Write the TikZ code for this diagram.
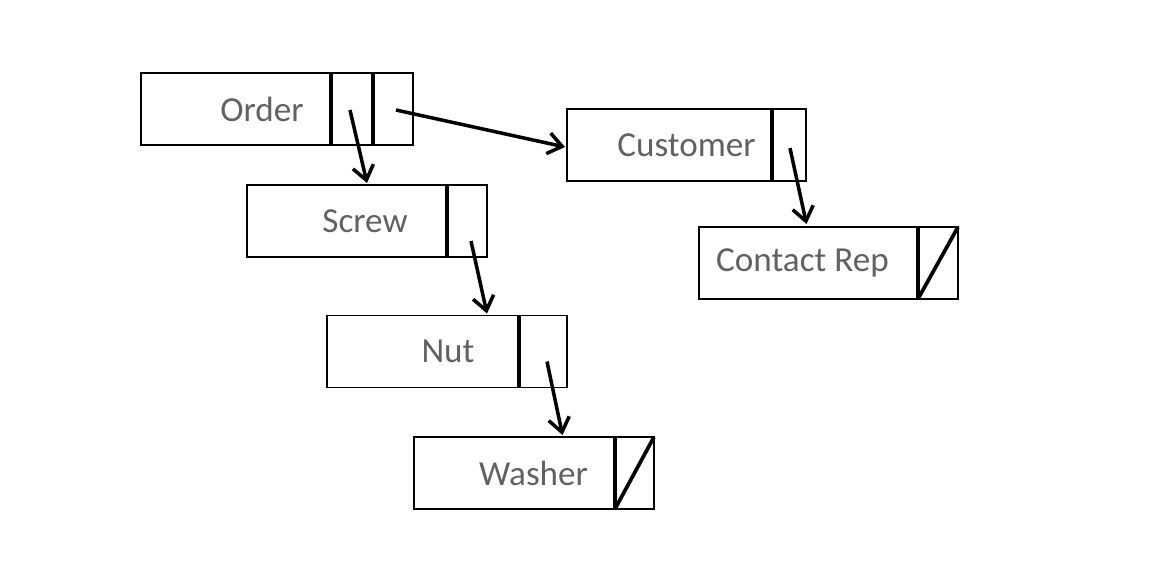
\documentclass[tikz,border=0pt]{standalone}
\usepackage{fontspec}
\setmainfont{Carlito}
\usetikzlibrary{arrows.meta,calc,positioning}
\tikzset{>={Straight Barb[length=2.8mm,width=4.2mm]}}
\tikzstyle{field}=[rectangle,draw=black,line width=0.9pt,minimum height=1.44cm,inner sep=0pt,outer sep=0pt]
\tikzstyle{rectext}=[text=black!62,font=\fontsize{20}{24}\selectfont,inner sep=0pt]
\tikzstyle{divider}=[line width=2.4pt]
\tikzstyle{slash}=[line width=2.1pt]
\tikzstyle{link}=[->,line width=2pt]

\begin{document}
\begin{tikzpicture}[x=0.02cm,y=-0.02cm]
	\useasboundingbox (0,0) rectangle (1157,569);

	% records
	\node[field,minimum width=3.8cm] (order) at (236,109) {};
	\node[field,minimum width=0.84cm,right=0cm of order] (orderA) {};
	\node[field,minimum width=0.8cm,right=0cm of orderA] (orderB) {};

	\node[field,minimum width=4.1cm] (customer) at (669.5,145) {};
	\node[field,minimum width=0.68cm,right=0cm of customer] (customerP) {};

	\node[field,minimum width=4cm] (screw) at (347,221) {};
	\node[field,minimum width=0.8cm,right=0cm of screw] (screwP) {};

	\node[field,minimum width=4.38cm] (contact) at (808.5,263) {};
	\node[field,minimum width=0.8cm,right=0cm of contact] (contactP) {};

	\node[field,minimum width=3.84cm] (nut) at (423,351.5) {};
	\node[field,minimum width=0.96cm,right=0cm of nut] (nutP) {};

	\node[field,minimum width=4.02cm] (washer) at (514.5,473) {};
	\node[field,minimum width=0.78cm,right=0cm of washer] (washerP) {};

	% names
	\node[rectext] (orderT) at ($(order)+(26,0)$) {Order};
	\node[rectext] (customerT) at ($(customer)+(17,0)$) {Customer};
	\node[rectext] (screwT) at ($(screw)+(18,0)$) {Screw};
	\node[rectext] (contactT) at ($(contact)+(-6,0)$) {Contact Rep};
	\node[rectext] (nutT) at ($(nut)+(25,0)$) {Nut};
	\node[rectext] (washerT) at ($(washer)+(19,0)$) {Washer};

	% pointer fields
	\draw[divider] (orderA.north west) -- (orderA.south west);
	\draw[divider] (orderB.north west) -- (orderB.south west);
	\draw[divider] (customerP.north west) -- (customerP.south west);
	\draw[divider] (screwP.north west) -- (screwP.south west);
	\draw[divider] (contactP.north west) -- (contactP.south west);
	\draw[divider] (nutP.north west) -- (nutP.south west);
	\draw[divider] (washerP.north west) -- (washerP.south west);

	\draw[slash] (contactP.south west) -- (contactP.north east);
	\draw[slash] (washerP.south west) -- (washerP.north east);

	% links
	\draw[link] ($(orderA.center)+(-2,1)$) -- ($(screw.north)+(20,-2)$);
	\draw[link] ($(orderB.center)+(3,1)$) -- ($(customer.west)+(-2,2)$);
	\draw[link] ($(customerP.center)+(1,3)$) -- ($(contact.north)+(-2,-3)$);
	\draw[link] ($(screwP.center)+(4,20)$) -- ($(nut.north)+(64,-2)$);
	\draw[link] ($(nutP.center)+(4,10)$) -- ($(washer.north)+(48,-2)$);
\end{tikzpicture}
\end{document}
